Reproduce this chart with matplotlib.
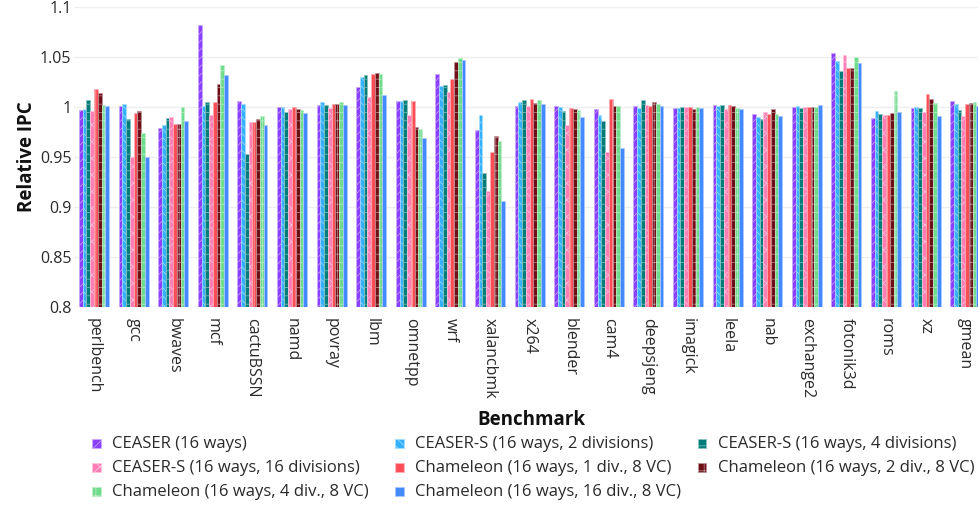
import numpy as np
import matplotlib
matplotlib.use("Agg")
import matplotlib.pyplot as plt
from matplotlib.patches import Rectangle
from matplotlib.colors import to_rgb

plt.rcParams["font.family"] = ["Open Sans", "DejaVu Sans"]
plt.rcParams["hatch.linewidth"] = 0.5

# ── data ─────────────────────────────────────────
benchmarks = ["perlbench", "gcc", "bwaves", "mcf", "cactuBSSN", "namd", "povray",
              "lbm", "omnetpp", "wrf", "xalancbmk", "x264", "blender", "cam4",
              "deepsjeng", "imagick", "leela", "nab", "exchange2", "fotonik3d",
              "roms", "xz", "gmean"]

ceaser       = [0.997, 1.001, 0.979, 1.082, 1.006, 1.000, 1.002, 1.020, 1.006, 1.033, 0.977, 1.001,
                1.001, 0.998, 1.001, 0.999, 1.002, 0.993, 1.000, 1.054, 0.989, 0.999, 1.006]
ceaser_s2    = [0.998, 1.003, 0.982, 1.001, 1.003, 1.000, 1.005, 1.030, 1.006, 1.021, 0.992, 1.005,
                1.000, 0.992, 0.999, 0.999, 1.001, 0.990, 1.001, 1.046, 0.996, 1.000, 1.003]
ceaser_s4    = [1.007, 0.988, 0.989, 1.005, 0.953, 0.995, 1.002, 1.032, 1.007, 1.022, 0.934, 1.007,
                0.996, 0.986, 1.007, 1.000, 1.002, 0.988, 0.999, 1.036, 0.993, 0.999, 0.997]
ceaser_s16   = [0.996, 0.950, 0.990, 0.992, 0.985, 0.998, 0.999, 1.010, 0.992, 1.015, 0.916, 1.001,
                0.982, 0.955, 1.002, 1.000, 0.998, 0.995, 1.000, 1.052, 0.992, 0.995, 0.991]
cham_1div    = [1.018, 0.994, 0.983, 1.005, 0.985, 1.000, 1.003, 1.033, 1.006, 1.028, 0.955, 1.008,
                0.999, 1.008, 1.001, 1.000, 1.002, 0.993, 1.000, 1.039, 0.992, 1.013, 1.003]
cham_2div    = [1.014, 0.996, 0.983, 1.023, 0.988, 0.998, 1.003, 1.034, 0.980, 1.045, 0.971, 1.004,
                0.998, 1.001, 1.005, 0.998, 1.001, 0.998, 1.000, 1.039, 0.994, 1.008, 1.004]
cham_4div    = [1.002, 0.974, 1.000, 1.042, 0.991, 0.997, 1.005, 1.033, 0.978, 1.049, 0.966, 1.007,
                0.997, 1.001, 1.003, 1.000, 0.999, 0.993, 1.000, 1.050, 1.016, 1.004, 1.005]
cham_16div   = [1.001, 0.950, 0.986, 1.032, 0.982, 0.994, 1.002, 1.012, 0.969, 1.047, 0.906, 1.003,
                0.990, 0.959, 1.001, 0.999, 0.998, 0.991, 1.002, 1.044, 0.995, 0.991, 1.001]

series = [
    ("CEASER (16 ways)",                   ceaser,     "#8a3ffc", "////"),
    ("CEASER-S (16 ways, 2 divisions)",    ceaser_s2,  "#33b1ff", "\\\\\\\\"),
    ("CEASER-S (16 ways, 4 divisions)",    ceaser_s4,  "#007d79", "--"),
    ("CEASER-S (16 ways, 16 divisions)",   ceaser_s16, "#ff7eb6", "xx"),
    ("Chameleon (16 ways, 1 div., 8 VC)",  cham_1div,  "#fa4d56", "||"),
    ("Chameleon (16 ways, 2 div., 8 VC)",  cham_2div,  "#6e0f17", "++"),
    ("Chameleon (16 ways, 4 div., 8 VC)",  cham_4div,  "#6fdc8c", "++"),
    ("Chameleon (16 ways, 16 div., 8 VC)", cham_16div, "#4589ff", ""),
]

W, H = 979, 507


def tint(c, amt=0.55):
    r, g, b = to_rgb(c)
    return (r + (1 - r) * amt, g + (1 - g) * amt, b + (1 - b) * amt)


def fx(px):
    return px / W


def fy(py):
    return 1 - py / H


fig = plt.figure(figsize=(W / 100, H / 100), dpi=100)
# plot area runs a little past the right edge of the figure
ax = fig.add_axes([fx(74.2), fy(307.3), fx(910.8), (307.3 - 7.3) / H])

x = np.arange(len(benchmarks))
n = len(series)
bw = 0.76 / n
for i, (name, vals, col, hatch) in enumerate(series):
    ax.bar(x + (i - (n - 1) / 2) * bw, vals, width=bw, color=col,
           edgecolor=tint(col), linewidth=0.5, hatch=hatch, label=name, zorder=2)

ax.set_xlim(-0.5, len(benchmarks) - 0.5)
ax.set_ylim(0.8, 1.1)
yt = [0.8, 0.85, 0.9, 0.95, 1.0, 1.05, 1.1]
ax.set_yticks(yt)
ax.set_yticklabels(["0.8", "0.85", "0.9", "0.95", "1", "1.05", "1.1"])
ax.set_xticks(x)
ax.set_xticklabels(benchmarks, rotation=-90, va="top", ha="center")
ax.tick_params(axis="y", length=0, pad=2, labelsize=11.5, labelcolor="#2a2a2a")
ax.tick_params(axis="x", length=0, pad=8, labelsize=11.5, labelcolor="#2a2a2a")
ax.grid(axis="y", color="#eeeeee", linewidth=1, zorder=0)
ax.set_axisbelow(True)
for s in ax.spines.values():
    s.set_visible(False)

fig.text(fx(27), fy(157), "Relative IPC", rotation=90, ha="center", va="center",
         fontsize=13.5, fontweight="bold", color="#111111")
fig.text(fx(531), fy(420), "Benchmark", ha="center", va="center",
         fontsize=13.5, fontweight="bold", color="#111111")

# legend: 3 columns, row-major
col_x = [96.5, 399.5, 702]
row_y = [443.5, 467.5, 491.5]
sz = 8.5
for i, (name, vals, col, hatch) in enumerate(series):
    cx, cy = col_x[i % 3], row_y[i // 3]
    fig.add_artist(Rectangle((fx(cx - sz / 2), fy(cy + sz / 2)), sz / W, sz / H,
                             transform=fig.transFigure, facecolor=col,
                             edgecolor=tint(col), linewidth=0.6, hatch=hatch))
    fig.text(fx(cx + 15.5), fy(cy), name, ha="left", va="center",
             fontsize=12, color="#2a2a2a")

fig.savefig("out.png", dpi=100)
